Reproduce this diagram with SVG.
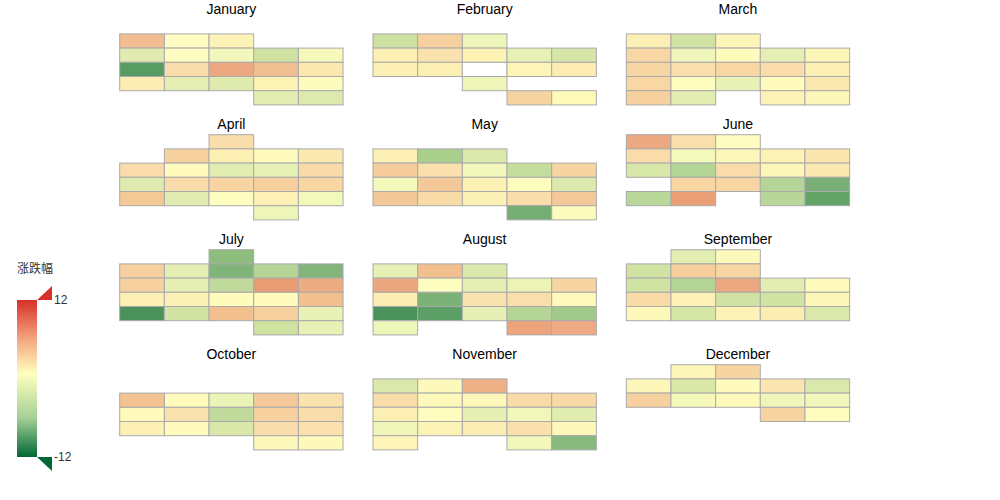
<svg xmlns="http://www.w3.org/2000/svg" width="1000" height="500" viewBox="0 0 1000 500">
<style>
.c{stroke:#aaa;stroke-width:1}
.t{font-family:"Liberation Sans",Arial,sans-serif;font-size:14px;fill:#000;text-anchor:middle}
.l{font-family:"Liberation Sans","Noto Sans CJK SC",sans-serif;font-size:12px;fill:#333}
</style>
<defs>
<linearGradient id="vm" x1="0" y1="0" x2="0" y2="1">
<stop offset="0" stop-color="#d73027"/>
<stop offset="0.25" stop-color="#f4a582"/>
<stop offset="0.47" stop-color="#ffffbf"/>
<stop offset="0.75" stop-color="#a6d096"/>
<stop offset="1" stop-color="#006837"/>
</linearGradient>
</defs>
<rect width="1000" height="500" fill="#fff"/>
<g id="jan" transform="translate(119.7,19.7)">
<text class="t" x="111.67" y="-5.7">January</text>
<rect class="c" x="0" y="14.2" width="44.67" height="14.2" fill="#f2bd90"/>
<rect class="c" x="44.67" y="14.2" width="44.67" height="14.2" fill="#fefcc0"/>
<rect class="c" x="89.33" y="14.2" width="44.67" height="14.2" fill="#fdf3b6"/>
<rect class="c" x="0" y="28.4" width="44.67" height="14.2" fill="#e0ebb0"/>
<rect class="c" x="44.67" y="28.4" width="44.67" height="14.2" fill="#fefcc0"/>
<rect class="c" x="89.33" y="28.4" width="44.67" height="14.2" fill="#f3f7bb"/>
<rect class="c" x="134" y="28.4" width="44.67" height="14.2" fill="#cfe2a1"/>
<rect class="c" x="178.67" y="28.4" width="44.67" height="14.2" fill="#f6f8bc"/>
<rect class="c" x="0" y="42.6" width="44.67" height="14.2" fill="#579d63"/>
<rect class="c" x="44.67" y="42.6" width="44.67" height="14.2" fill="#f8dcab"/>
<rect class="c" x="89.33" y="42.6" width="44.67" height="14.2" fill="#eca880"/>
<rect class="c" x="134" y="42.6" width="44.67" height="14.2" fill="#f1c091"/>
<rect class="c" x="178.67" y="42.6" width="44.67" height="14.2" fill="#fbe8b1"/>
<rect class="c" x="0" y="56.8" width="44.67" height="14.2" fill="#fceeb3"/>
<rect class="c" x="44.67" y="56.8" width="44.67" height="14.2" fill="#e5efb4"/>
<rect class="c" x="89.33" y="56.8" width="44.67" height="14.2" fill="#dfeaaf"/>
<rect class="c" x="134" y="56.8" width="44.67" height="14.2" fill="#fdf3b5"/>
<rect class="c" x="178.67" y="56.8" width="44.67" height="14.2" fill="#fefbbf"/>
<rect class="c" x="134" y="71" width="44.67" height="14.2" fill="#e4eeb3"/>
<rect class="c" x="178.67" y="71" width="44.67" height="14.2" fill="#dee9ae"/>
</g>
<g id="feb" transform="translate(373,19.7)">
<text class="t" x="111.67" y="-5.7">February</text>
<rect class="c" x="0" y="14.2" width="44.67" height="14.2" fill="#cde1a0"/>
<rect class="c" x="44.67" y="14.2" width="44.67" height="14.2" fill="#f6d09f"/>
<rect class="c" x="89.33" y="14.2" width="44.67" height="14.2" fill="#eef5b8"/>
<rect class="c" x="0" y="28.4" width="44.67" height="14.2" fill="#fcf0b4"/>
<rect class="c" x="44.67" y="28.4" width="44.67" height="14.2" fill="#f9e2ae"/>
<rect class="c" x="89.33" y="28.4" width="44.67" height="14.2" fill="#fcf3b5"/>
<rect class="c" x="134" y="28.4" width="44.67" height="14.2" fill="#e7f0b5"/>
<rect class="c" x="178.67" y="28.4" width="44.67" height="14.2" fill="#d6e6a7"/>
<rect class="c" x="0" y="42.6" width="44.67" height="14.2" fill="#fcf0b4"/>
<rect class="c" x="44.67" y="42.6" width="44.67" height="14.2" fill="#fbefb3"/>
<rect class="c" x="89.33" y="42.6" width="44.67" height="14.2" fill="#ffffff"/>
<rect class="c" x="134" y="42.6" width="44.67" height="14.2" fill="#fdf5b8"/>
<rect class="c" x="178.67" y="42.6" width="44.67" height="14.2" fill="#fcebb2"/>
<rect class="c" x="89.33" y="56.8" width="44.67" height="14.2" fill="#eff5b8"/>
<rect class="c" x="134" y="71" width="44.67" height="14.2" fill="#f6d4a1"/>
<rect class="c" x="178.67" y="71" width="44.67" height="14.2" fill="#fefab9"/>
</g>
<g id="mar" transform="translate(626.3,19.7)">
<text class="t" x="111.67" y="-5.7">March</text>
<rect class="c" x="0" y="14.2" width="44.67" height="14.2" fill="#fcefb3"/>
<rect class="c" x="44.67" y="14.2" width="44.67" height="14.2" fill="#d0e3a3"/>
<rect class="c" x="89.33" y="14.2" width="44.67" height="14.2" fill="#fdf5b8"/>
<rect class="c" x="0" y="28.4" width="44.67" height="14.2" fill="#f8d7a4"/>
<rect class="c" x="44.67" y="28.4" width="44.67" height="14.2" fill="#eff6b9"/>
<rect class="c" x="89.33" y="28.4" width="44.67" height="14.2" fill="#fefbbd"/>
<rect class="c" x="134" y="28.4" width="44.67" height="14.2" fill="#e5efb4"/>
<rect class="c" x="178.67" y="28.4" width="44.67" height="14.2" fill="#fdf6b9"/>
<rect class="c" x="0" y="42.6" width="44.67" height="14.2" fill="#f8d6a3"/>
<rect class="c" x="44.67" y="42.6" width="44.67" height="14.2" fill="#f9dfab"/>
<rect class="c" x="89.33" y="42.6" width="44.67" height="14.2" fill="#f8d7a4"/>
<rect class="c" x="134" y="42.6" width="44.67" height="14.2" fill="#f9dcaa"/>
<rect class="c" x="178.67" y="42.6" width="44.67" height="14.2" fill="#fcf0b4"/>
<rect class="c" x="0" y="56.8" width="44.67" height="14.2" fill="#f8d7a4"/>
<rect class="c" x="44.67" y="56.8" width="44.67" height="14.2" fill="#fefdc0"/>
<rect class="c" x="89.33" y="56.8" width="44.67" height="14.2" fill="#e8f1b6"/>
<rect class="c" x="134" y="56.8" width="44.67" height="14.2" fill="#fefbbd"/>
<rect class="c" x="178.67" y="56.8" width="44.67" height="14.2" fill="#fbe8b0"/>
<rect class="c" x="0" y="71" width="44.67" height="14.2" fill="#f6d19e"/>
<rect class="c" x="44.67" y="71" width="44.67" height="14.2" fill="#e3edb2"/>
<rect class="c" x="134" y="71" width="44.67" height="14.2" fill="#fdf2b5"/>
<rect class="c" x="178.67" y="71" width="44.67" height="14.2" fill="#fdf6b9"/>
</g>
<g id="apr" transform="translate(119.7,134.7)">
<text class="t" x="111.67" y="-5.7">April</text>
<rect class="c" x="89.33" y="0" width="44.67" height="14.2" fill="#f9deab"/>
<rect class="c" x="44.67" y="14.2" width="44.67" height="14.2" fill="#f6d19f"/>
<rect class="c" x="89.33" y="14.2" width="44.67" height="14.2" fill="#fcefb4"/>
<rect class="c" x="134" y="14.2" width="44.67" height="14.2" fill="#fefbbd"/>
<rect class="c" x="178.67" y="14.2" width="44.67" height="14.2" fill="#fce9b1"/>
<rect class="c" x="0" y="28.4" width="44.67" height="14.2" fill="#f9dcaa"/>
<rect class="c" x="44.67" y="28.4" width="44.67" height="14.2" fill="#fefbbd"/>
<rect class="c" x="89.33" y="28.4" width="44.67" height="14.2" fill="#e2edb2"/>
<rect class="c" x="134" y="28.4" width="44.67" height="14.2" fill="#e8f1b6"/>
<rect class="c" x="178.67" y="28.4" width="44.67" height="14.2" fill="#f8dba8"/>
<rect class="c" x="0" y="42.6" width="44.67" height="14.2" fill="#dfeaaf"/>
<rect class="c" x="44.67" y="42.6" width="44.67" height="14.2" fill="#f9dcaa"/>
<rect class="c" x="89.33" y="42.6" width="44.67" height="14.2" fill="#f8d4a2"/>
<rect class="c" x="134" y="42.6" width="44.67" height="14.2" fill="#f6d09e"/>
<rect class="c" x="178.67" y="42.6" width="44.67" height="14.2" fill="#f8d6a3"/>
<rect class="c" x="0" y="56.8" width="44.67" height="14.2" fill="#f4c996"/>
<rect class="c" x="44.67" y="56.8" width="44.67" height="14.2" fill="#e2ecb1"/>
<rect class="c" x="89.33" y="56.8" width="44.67" height="14.2" fill="#fefdc0"/>
<rect class="c" x="134" y="56.8" width="44.67" height="14.2" fill="#fdf1b5"/>
<rect class="c" x="178.67" y="56.8" width="44.67" height="14.2" fill="#f3f8bb"/>
<rect class="c" x="134" y="71" width="44.67" height="14.2" fill="#eef5b8"/>
</g>
<g id="may" transform="translate(373,134.7)">
<text class="t" x="111.67" y="-5.7">May</text>
<rect class="c" x="0" y="14.2" width="44.67" height="14.2" fill="#fcefb4"/>
<rect class="c" x="44.67" y="14.2" width="44.67" height="14.2" fill="#a9cf8d"/>
<rect class="c" x="89.33" y="14.2" width="44.67" height="14.2" fill="#dbe8ab"/>
<rect class="c" x="0" y="28.4" width="44.67" height="14.2" fill="#f6cc9a"/>
<rect class="c" x="44.67" y="28.4" width="44.67" height="14.2" fill="#f9e0ac"/>
<rect class="c" x="89.33" y="28.4" width="44.67" height="14.2" fill="#f2f7bb"/>
<rect class="c" x="134" y="28.4" width="44.67" height="14.2" fill="#c5dd9c"/>
<rect class="c" x="178.67" y="28.4" width="44.67" height="14.2" fill="#f7d5a2"/>
<rect class="c" x="0" y="42.6" width="44.67" height="14.2" fill="#f3f8bb"/>
<rect class="c" x="44.67" y="42.6" width="44.67" height="14.2" fill="#f4c898"/>
<rect class="c" x="89.33" y="42.6" width="44.67" height="14.2" fill="#fdf1b5"/>
<rect class="c" x="134" y="42.6" width="44.67" height="14.2" fill="#fefdc0"/>
<rect class="c" x="178.67" y="42.6" width="44.67" height="14.2" fill="#dce9ac"/>
<rect class="c" x="0" y="56.8" width="44.67" height="14.2" fill="#f4c797"/>
<rect class="c" x="44.67" y="56.8" width="44.67" height="14.2" fill="#f9dba8"/>
<rect class="c" x="89.33" y="56.8" width="44.67" height="14.2" fill="#fcf1b5"/>
<rect class="c" x="134" y="56.8" width="44.67" height="14.2" fill="#f9deab"/>
<rect class="c" x="178.67" y="56.8" width="44.67" height="14.2" fill="#f4c898"/>
<rect class="c" x="134" y="71" width="44.67" height="14.2" fill="#76ad74"/>
<rect class="c" x="178.67" y="71" width="44.67" height="14.2" fill="#fbfbbd"/>
</g>
<g id="jun" transform="translate(626.3,134.7)">
<text class="t" x="111.67" y="-5.7">June</text>
<rect class="c" x="0" y="0" width="44.67" height="14.2" fill="#eca880"/>
<rect class="c" x="44.67" y="0" width="44.67" height="14.2" fill="#f9dfab"/>
<rect class="c" x="89.33" y="0" width="44.67" height="14.2" fill="#fefcc0"/>
<rect class="c" x="0" y="14.2" width="44.67" height="14.2" fill="#f9dcaa"/>
<rect class="c" x="44.67" y="14.2" width="44.67" height="14.2" fill="#f4f9bc"/>
<rect class="c" x="89.33" y="14.2" width="44.67" height="14.2" fill="#fdf8ba"/>
<rect class="c" x="134" y="14.2" width="44.67" height="14.2" fill="#fdf2b5"/>
<rect class="c" x="178.67" y="14.2" width="44.67" height="14.2" fill="#fbe6af"/>
<rect class="c" x="0" y="28.4" width="44.67" height="14.2" fill="#d7e7a7"/>
<rect class="c" x="44.67" y="28.4" width="44.67" height="14.2" fill="#b5d597"/>
<rect class="c" x="89.33" y="28.4" width="44.67" height="14.2" fill="#f9dcaa"/>
<rect class="c" x="134" y="28.4" width="44.67" height="14.2" fill="#fdf6b9"/>
<rect class="c" x="178.67" y="28.4" width="44.67" height="14.2" fill="#fce9b1"/>
<rect class="c" x="44.67" y="42.6" width="44.67" height="14.2" fill="#f8d6a3"/>
<rect class="c" x="89.33" y="42.6" width="44.67" height="14.2" fill="#f8d6a3"/>
<rect class="c" x="134" y="42.6" width="44.67" height="14.2" fill="#b5d597"/>
<rect class="c" x="178.67" y="42.6" width="44.67" height="14.2" fill="#79af76"/>
<rect class="c" x="0" y="56.8" width="44.67" height="14.2" fill="#b9d798"/>
<rect class="c" x="44.67" y="56.8" width="44.67" height="14.2" fill="#ea9f77"/>
<rect class="c" x="134" y="56.8" width="44.67" height="14.2" fill="#b7d697"/>
<rect class="c" x="178.67" y="56.8" width="44.67" height="14.2" fill="#62a468"/>
</g>
<g id="jul" transform="translate(119.7,249.7)">
<text class="t" x="111.67" y="-5.7">July</text>
<rect class="c" x="89.33" y="0" width="44.67" height="14.2" fill="#8ebe7e"/>
<rect class="c" x="0" y="14.2" width="44.67" height="14.2" fill="#f6d19f"/>
<rect class="c" x="44.67" y="14.2" width="44.67" height="14.2" fill="#e5efb4"/>
<rect class="c" x="89.33" y="14.2" width="44.67" height="14.2" fill="#80b47a"/>
<rect class="c" x="134" y="14.2" width="44.67" height="14.2" fill="#b5d597"/>
<rect class="c" x="178.67" y="14.2" width="44.67" height="14.2" fill="#83b57b"/>
<rect class="c" x="0" y="28.4" width="44.67" height="14.2" fill="#f6d19f"/>
<rect class="c" x="44.67" y="28.4" width="44.67" height="14.2" fill="#e5efb4"/>
<rect class="c" x="89.33" y="28.4" width="44.67" height="14.2" fill="#bfda9b"/>
<rect class="c" x="134" y="28.4" width="44.67" height="14.2" fill="#e99c74"/>
<rect class="c" x="178.67" y="28.4" width="44.67" height="14.2" fill="#eeac83"/>
<rect class="c" x="0" y="42.6" width="44.67" height="14.2" fill="#fcefb4"/>
<rect class="c" x="44.67" y="42.6" width="44.67" height="14.2" fill="#fcf1b5"/>
<rect class="c" x="89.33" y="42.6" width="44.67" height="14.2" fill="#fefbbd"/>
<rect class="c" x="134" y="42.6" width="44.67" height="14.2" fill="#fefbbd"/>
<rect class="c" x="178.67" y="42.6" width="44.67" height="14.2" fill="#f2c08f"/>
<rect class="c" x="0" y="56.8" width="44.67" height="14.2" fill="#4b915c"/>
<rect class="c" x="44.67" y="56.8" width="44.67" height="14.2" fill="#d2e4a4"/>
<rect class="c" x="89.33" y="56.8" width="44.67" height="14.2" fill="#f2c08f"/>
<rect class="c" x="134" y="56.8" width="44.67" height="14.2" fill="#f6d09e"/>
<rect class="c" x="178.67" y="56.8" width="44.67" height="14.2" fill="#e8f1b6"/>
<rect class="c" x="134" y="71" width="44.67" height="14.2" fill="#cee2a1"/>
<rect class="c" x="178.67" y="71" width="44.67" height="14.2" fill="#e7f0b5"/>
</g>
<g id="aug" transform="translate(373,249.7)">
<text class="t" x="111.67" y="-5.7">August</text>
<rect class="c" x="0" y="14.2" width="44.67" height="14.2" fill="#e7f0b5"/>
<rect class="c" x="44.67" y="14.2" width="44.67" height="14.2" fill="#f2bf8f"/>
<rect class="c" x="89.33" y="14.2" width="44.67" height="14.2" fill="#dce9ac"/>
<rect class="c" x="0" y="28.4" width="44.67" height="14.2" fill="#eda77f"/>
<rect class="c" x="44.67" y="28.4" width="44.67" height="14.2" fill="#fefdc0"/>
<rect class="c" x="89.33" y="28.4" width="44.67" height="14.2" fill="#e5efb4"/>
<rect class="c" x="134" y="28.4" width="44.67" height="14.2" fill="#ebf3b7"/>
<rect class="c" x="178.67" y="28.4" width="44.67" height="14.2" fill="#f7d5a2"/>
<rect class="c" x="0" y="42.6" width="44.67" height="14.2" fill="#fcedb3"/>
<rect class="c" x="44.67" y="42.6" width="44.67" height="14.2" fill="#7cb177"/>
<rect class="c" x="89.33" y="42.6" width="44.67" height="14.2" fill="#fae2ae"/>
<rect class="c" x="134" y="42.6" width="44.67" height="14.2" fill="#f9dfac"/>
<rect class="c" x="178.67" y="42.6" width="44.67" height="14.2" fill="#fefabc"/>
<rect class="c" x="0" y="56.8" width="44.67" height="14.2" fill="#4b915c"/>
<rect class="c" x="44.67" y="56.8" width="44.67" height="14.2" fill="#5b9e66"/>
<rect class="c" x="89.33" y="56.8" width="44.67" height="14.2" fill="#e6efb5"/>
<rect class="c" x="134" y="56.8" width="44.67" height="14.2" fill="#b5d597"/>
<rect class="c" x="178.67" y="56.8" width="44.67" height="14.2" fill="#a2c98c"/>
<rect class="c" x="0" y="71" width="44.67" height="14.2" fill="#eef5b8"/>
<rect class="c" x="134" y="71" width="44.67" height="14.2" fill="#eba47c"/>
<rect class="c" x="178.67" y="71" width="44.67" height="14.2" fill="#eeaa82"/>
</g>
<g id="sep" transform="translate(626.3,249.7)">
<text class="t" x="111.67" y="-5.7">September</text>
<rect class="c" x="44.67" y="0" width="44.67" height="14.2" fill="#e2edb2"/>
<rect class="c" x="89.33" y="0" width="44.67" height="14.2" fill="#fcf9ba"/>
<rect class="c" x="0" y="14.2" width="44.67" height="14.2" fill="#d0e3a3"/>
<rect class="c" x="44.67" y="14.2" width="44.67" height="14.2" fill="#f6cd9c"/>
<rect class="c" x="89.33" y="14.2" width="44.67" height="14.2" fill="#f8d6a3"/>
<rect class="c" x="0" y="28.4" width="44.67" height="14.2" fill="#d0e3a3"/>
<rect class="c" x="44.67" y="28.4" width="44.67" height="14.2" fill="#b3d495"/>
<rect class="c" x="89.33" y="28.4" width="44.67" height="14.2" fill="#eca880"/>
<rect class="c" x="134" y="28.4" width="44.67" height="14.2" fill="#e3edb2"/>
<rect class="c" x="178.67" y="28.4" width="44.67" height="14.2" fill="#fefbbd"/>
<rect class="c" x="0" y="42.6" width="44.67" height="14.2" fill="#f9dba8"/>
<rect class="c" x="44.67" y="42.6" width="44.67" height="14.2" fill="#fdf1b5"/>
<rect class="c" x="89.33" y="42.6" width="44.67" height="14.2" fill="#d1e3a4"/>
<rect class="c" x="134" y="42.6" width="44.67" height="14.2" fill="#d2e4a4"/>
<rect class="c" x="178.67" y="42.6" width="44.67" height="14.2" fill="#fdf6b9"/>
<rect class="c" x="0" y="56.8" width="44.67" height="14.2" fill="#fdf9bb"/>
<rect class="c" x="44.67" y="56.8" width="44.67" height="14.2" fill="#d5e6a6"/>
<rect class="c" x="89.33" y="56.8" width="44.67" height="14.2" fill="#fdf3b6"/>
<rect class="c" x="134" y="56.8" width="44.67" height="14.2" fill="#fcedb3"/>
<rect class="c" x="178.67" y="56.8" width="44.67" height="14.2" fill="#dbe8ab"/>
</g>
<g id="oct" transform="translate(119.7,364.7)">
<text class="t" x="111.67" y="-5.7">October</text>
<rect class="c" x="0" y="28.4" width="44.67" height="14.2" fill="#f2c291"/>
<rect class="c" x="44.67" y="28.4" width="44.67" height="14.2" fill="#fefbbd"/>
<rect class="c" x="89.33" y="28.4" width="44.67" height="14.2" fill="#ecf3b7"/>
<rect class="c" x="134" y="28.4" width="44.67" height="14.2" fill="#f4c898"/>
<rect class="c" x="178.67" y="28.4" width="44.67" height="14.2" fill="#f9e2ae"/>
<rect class="c" x="0" y="42.6" width="44.67" height="14.2" fill="#fefbbd"/>
<rect class="c" x="44.67" y="42.6" width="44.67" height="14.2" fill="#f9e2ae"/>
<rect class="c" x="89.33" y="42.6" width="44.67" height="14.2" fill="#c0da9b"/>
<rect class="c" x="134" y="42.6" width="44.67" height="14.2" fill="#f7d2a0"/>
<rect class="c" x="178.67" y="42.6" width="44.67" height="14.2" fill="#f8dca9"/>
<rect class="c" x="0" y="56.8" width="44.67" height="14.2" fill="#fcf0b4"/>
<rect class="c" x="44.67" y="56.8" width="44.67" height="14.2" fill="#fefbbd"/>
<rect class="c" x="89.33" y="56.8" width="44.67" height="14.2" fill="#d9e7a9"/>
<rect class="c" x="134" y="56.8" width="44.67" height="14.2" fill="#f9deab"/>
<rect class="c" x="178.67" y="56.8" width="44.67" height="14.2" fill="#fae1ad"/>
<rect class="c" x="134" y="71" width="44.67" height="14.2" fill="#fdf7b9"/>
<rect class="c" x="178.67" y="71" width="44.67" height="14.2" fill="#fdf9bb"/>
</g>
<g id="nov" transform="translate(373,364.7)">
<text class="t" x="111.67" y="-5.7">November</text>
<rect class="c" x="0" y="14.2" width="44.67" height="14.2" fill="#dbe8ab"/>
<rect class="c" x="44.67" y="14.2" width="44.67" height="14.2" fill="#fcf9ba"/>
<rect class="c" x="89.33" y="14.2" width="44.67" height="14.2" fill="#eeb185"/>
<rect class="c" x="0" y="28.4" width="44.67" height="14.2" fill="#f9dda9"/>
<rect class="c" x="44.67" y="28.4" width="44.67" height="14.2" fill="#fdf9bb"/>
<rect class="c" x="89.33" y="28.4" width="44.67" height="14.2" fill="#fdf8ba"/>
<rect class="c" x="134" y="28.4" width="44.67" height="14.2" fill="#f9dba8"/>
<rect class="c" x="178.67" y="28.4" width="44.67" height="14.2" fill="#f8d9a6"/>
<rect class="c" x="0" y="42.6" width="44.67" height="14.2" fill="#fcefb4"/>
<rect class="c" x="44.67" y="42.6" width="44.67" height="14.2" fill="#fefcbf"/>
<rect class="c" x="89.33" y="42.6" width="44.67" height="14.2" fill="#e5efb4"/>
<rect class="c" x="134" y="42.6" width="44.67" height="14.2" fill="#f1f7ba"/>
<rect class="c" x="178.67" y="42.6" width="44.67" height="14.2" fill="#e1ecb1"/>
<rect class="c" x="0" y="56.8" width="44.67" height="14.2" fill="#f0f6b9"/>
<rect class="c" x="44.67" y="56.8" width="44.67" height="14.2" fill="#fcf4b6"/>
<rect class="c" x="89.33" y="56.8" width="44.67" height="14.2" fill="#fbedb3"/>
<rect class="c" x="134" y="56.8" width="44.67" height="14.2" fill="#f9e0ac"/>
<rect class="c" x="178.67" y="56.8" width="44.67" height="14.2" fill="#fdf7b9"/>
<rect class="c" x="0" y="71" width="44.67" height="14.2" fill="#fdf5b8"/>
<rect class="c" x="134" y="71" width="44.67" height="14.2" fill="#f2f7bb"/>
<rect class="c" x="178.67" y="71" width="44.67" height="14.2" fill="#88ba7d"/>
</g>
<g id="dec" transform="translate(626.3,364.7)">
<text class="t" x="111.67" y="-5.7">December</text>
<rect class="c" x="44.67" y="0" width="44.67" height="14.2" fill="#fdf6b9"/>
<rect class="c" x="89.33" y="0" width="44.67" height="14.2" fill="#f7d5a2"/>
<rect class="c" x="0" y="14.2" width="44.67" height="14.2" fill="#fdf6b9"/>
<rect class="c" x="44.67" y="14.2" width="44.67" height="14.2" fill="#d9e7a9"/>
<rect class="c" x="89.33" y="14.2" width="44.67" height="14.2" fill="#fefbbd"/>
<rect class="c" x="134" y="14.2" width="44.67" height="14.2" fill="#fae4af"/>
<rect class="c" x="178.67" y="14.2" width="44.67" height="14.2" fill="#dbe8ab"/>
<rect class="c" x="0" y="28.4" width="44.67" height="14.2" fill="#f6d19f"/>
<rect class="c" x="44.67" y="28.4" width="44.67" height="14.2" fill="#f4f8bb"/>
<rect class="c" x="89.33" y="28.4" width="44.67" height="14.2" fill="#fdf9bb"/>
<rect class="c" x="134" y="28.4" width="44.67" height="14.2" fill="#f0f6b9"/>
<rect class="c" x="178.67" y="28.4" width="44.67" height="14.2" fill="#f1f7ba"/>
<rect class="c" x="134" y="42.6" width="44.67" height="14.2" fill="#f6d3a1"/>
<rect class="c" x="178.67" y="42.6" width="44.67" height="14.2" fill="#fefcbf"/>
</g>
<g id="legend">
<text class="l" x="17" y="273">涨跌幅</text>
<rect x="17" y="300" width="20" height="157" fill="url(#vm)"/>
<polygon points="37,300 52,286 52,300" fill="#d73027"/>
<polygon points="37,457 52,457 52,471" fill="#006837"/>
<text class="l" x="54" y="304">12</text>
<text class="l" x="54" y="461">-12</text>
</g>
</svg>
